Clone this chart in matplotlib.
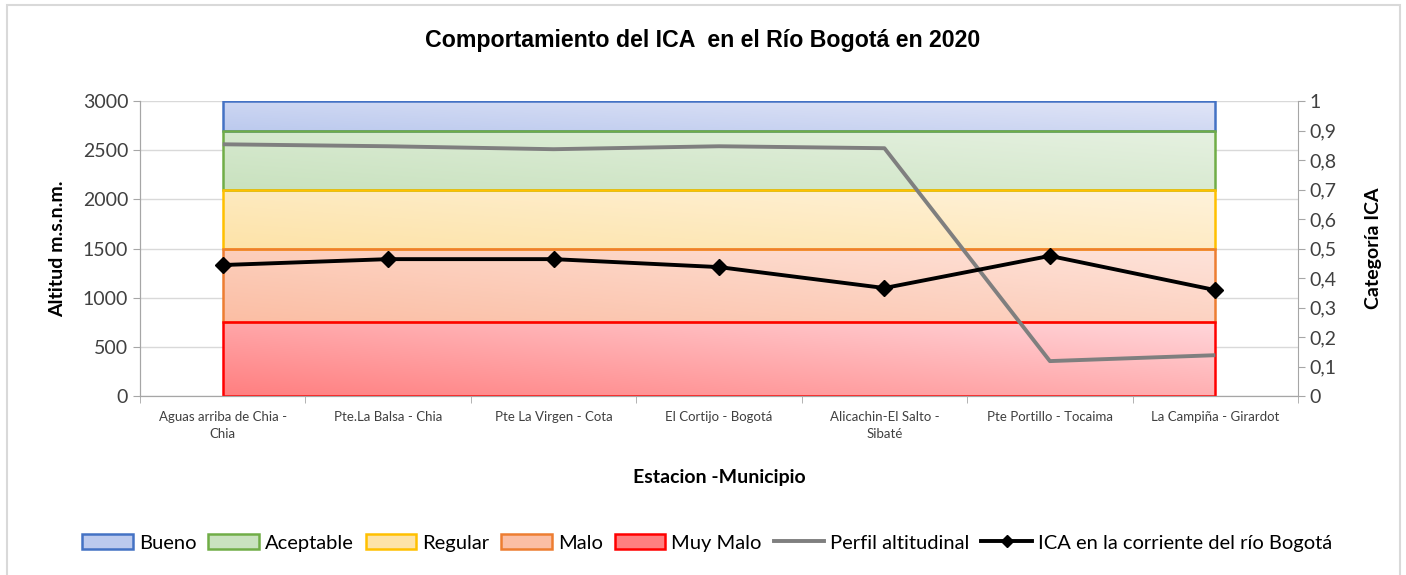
import numpy as np
import matplotlib
matplotlib.use("Agg")
import matplotlib.pyplot as plt
from matplotlib.patches import Rectangle, Patch
from matplotlib.lines import Line2D
from matplotlib.colors import to_rgb

plt.rcParams['font.family'] = ['Lato', 'DejaVu Sans']

# data
estaciones = ["Aguas arriba de Chia -\nChia", "Pte.La Balsa - Chia", "Pte La Virgen - Cota",
              "El Cortijo - Bogotá", "Alicachin-El Salto -\nSibaté", "Pte Portillo - Tocaima",
              "La Campiña - Girardot"]
altitud = [2560, 2540, 2510, 2540, 2520, 355, 415]
ica = [0.444, 0.464, 0.464, 0.437, 0.366, 0.475, 0.359]

categorias = ["Bueno", "Aceptable", "Regular", "Malo", "Muy Malo"]
cat_inf = [0.9, 0.7, 0.5, 0.25, 0.0]
cat_sup = [1.0, 0.9, 0.7, 0.5, 0.25]
borde = ["#4472c4", "#70ad47", "#ffc000", "#ed7d31", "#ff0000"]
# (darker corner, lighter corner) of each gradient fill
oscuro = ["#bccaee", "#c9e2bf", "#fde3a8", "#fbbea4", "#ff7f80"]
claro = ["#e1e5f7", "#e6f1e1", "#fff2db", "#fee3da", "#ffd6da"]

alt_max = 3000

fig = plt.figure(figsize=(14.06, 5.75), dpi=100)
ax = fig.add_axes([0.0996, 0.3113, 0.8236, 0.513])
ax2 = ax.twinx()

x = np.arange(len(estaciones))
ax.set_xlim(-0.5, len(estaciones) - 0.5)
ax.set_ylim(0, alt_max)
ax2.set_ylim(0, 1)

# gradient bands
gx, gy = np.meshgrid(np.linspace(0, 1, 200), np.linspace(0, 1, 60))
for nombre, lo, hi, bc, c0, c1 in zip(categorias, cat_inf, cat_sup, borde, oscuro, claro):
    t = np.clip(0.55 * gx + 0.45 * gy, 0, 1)[..., None]
    img = (1 - t) * np.array(to_rgb(c0)) + t * np.array(to_rgb(c1))
    ax.imshow(img, extent=[x[0], x[-1], lo * alt_max, hi * alt_max], origin="lower",
              aspect="auto", zorder=1, interpolation="bilinear")
    ax.add_patch(Rectangle((x[0], lo * alt_max), x[-1] - x[0], (hi - lo) * alt_max,
                           fill=False, edgecolor=bc, lw=1.8, zorder=2))

ax.plot(x, altitud, color="#7f7f7f", lw=2.8, zorder=3, solid_capstyle="butt")
ax2.plot(x, ica, color="black", lw=2.8, marker="D", markersize=8, zorder=3)

ax.set_yticks(np.arange(0, 3001, 500))
ax2.set_yticks(np.arange(0, 1.01, 0.1))
ax2.set_yticklabels(["0"] + [f"0,{i}" for i in range(1, 10)] + ["1"])
ax.grid(axis="y", color="#d9d9d9", lw=1, zorder=0)
ax.set_axisbelow(True)

ax.set_xticks(x)
ax.set_xticklabels(estaciones, fontsize=9.5, color="#404040", linespacing=1.5)
ax.set_xticks(np.arange(-0.5, len(estaciones)), minor=True)
ax.tick_params(axis="x", which="major", length=0, pad=11)
ax.tick_params(axis="x", which="minor", length=5, color="#a6a6a6", direction="out")
ax.tick_params(axis="y", labelsize=14, labelcolor="#404040", length=5, color="#a6a6a6")
ax2.tick_params(axis="y", labelsize=14, labelcolor="#404040", length=5, color="#a6a6a6")

for a in (ax, ax2):
    a.spines["top"].set_visible(False)
    for s in ("left", "right", "bottom"):
        a.spines[s].set_color("#a6a6a6")
ax.spines["right"].set_visible(False)

ax.set_ylabel("Altitud m.s.n.m.", fontsize=14, fontweight="bold", labelpad=12)
ax2.set_ylabel("Categoría ICA", fontsize=14, fontweight="bold", labelpad=20)
ax.set_xlabel("Estacion -Municipio", fontsize=14, fontweight="bold", labelpad=21)

fig.text(0.5, 0.93, "Comportamiento del ICA  en el Río Bogotá en 2020",
         ha="center", va="center", fontsize=16.7, fontweight="bold", family="Liberation Sans")

handles = [Patch(facecolor=c1, edgecolor=bc, lw=1.8) for bc, c1 in zip(borde, oscuro)]
handles += [Line2D([], [], color="#7f7f7f", lw=2.8),
            Line2D([], [], color="black", lw=2.8, marker="D", markersize=6)]
labels = categorias + ["Perfil altitudinal", "ICA en la corriente del río Bogotá"]
fig.legend(handles, labels, loc="center", bbox_to_anchor=(0.503, 0.056), ncol=7,
           frameon=False, fontsize=14.5, handlelength=2.5, handleheight=0.8,
           handletextpad=0.3, columnspacing=0.6)

fig.add_artist(Rectangle((7 / 1406, -0.1), 1393 / 1406, 1.1 - 5 / 575,
                         transform=fig.transFigure, fill=False, edgecolor="#d9d9d9", lw=1.5))

fig.savefig("out.png", dpi=100)
